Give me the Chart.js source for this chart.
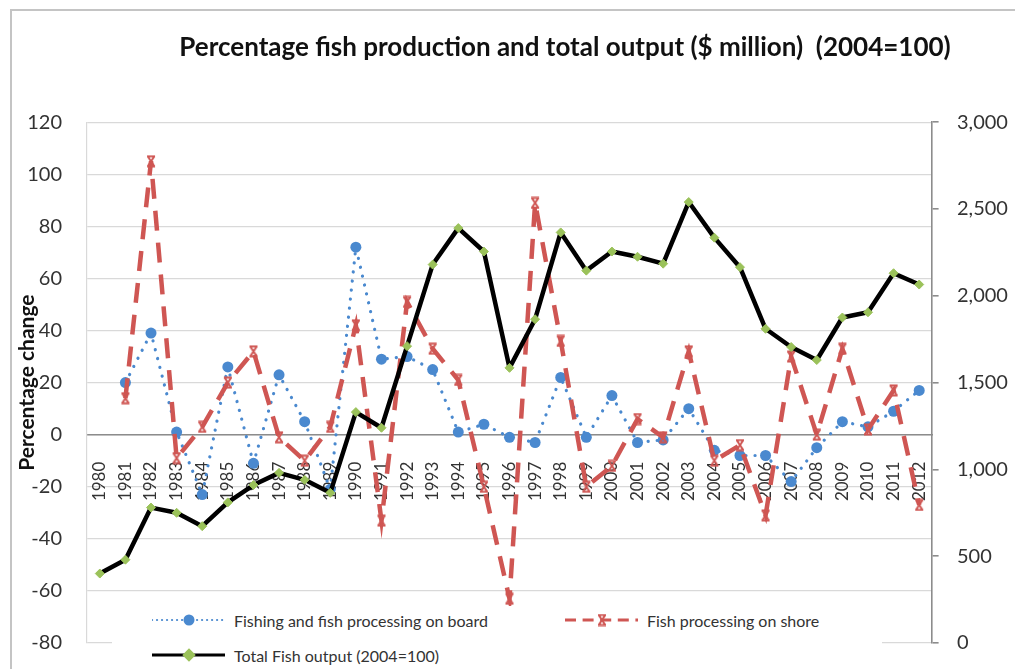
<!DOCTYPE html>
<html lang="en">
<head>
<meta charset="utf-8" />
<title>Percentage fish production and total output</title>
<script src="https://cdn.jsdelivr.net/npm/chart.js@4.4.1/dist/chart.umd.min.js"></script>
<style>
    body { margin: 0; background: #fff; font-family: Lato, sans-serif; }
    #wrap { position: relative; width: 1015px; height: 669px; overflow: hidden; }
    #frame { position: absolute; left: 10px; top: 9px; width: 1100px; height: 700px; border: 2px solid #c4c4c4; }
    #chart { position: absolute; left: 0; top: 0; }
    #legend { position: absolute; left: 112px; top: 606px; width: 770px; height: 63px; background: #fff; }
    .item { position: absolute; height: 18px; display: flex; align-items: center; font-size: 16px; color: #333; white-space: nowrap; }
    .item canvas { margin-right: 9px; }
</style>
</head>
<body>
<div id="wrap">
    <div id="frame"></div>
    <canvas id="chart" width="1015" height="669"></canvas>
    <div id="legend"></div>
</div>
<script>
    // data
    const years = ['1980', '1981', '1982', '1983', '1984', '1985', '1986', '1987', '1988', '1989',
        '1990', '1991', '1992', '1993', '1994', '1995', '1996', '1997', '1998', '1999',
        '2000', '2001', '2002', '2003', '2004', '2005', '2006', '2007', '2008', '2009',
        '2010', '2011', '2012'];

    const onBoard = [null, 20, 39, 1, -23, 26, -11, 23, 5, -21,
        72, 29, 30, 25, 1, 4, -1, -3, 22, -1,
        15, -3, -2, 10, -6, -8, -8, -18, -5, 5,
        3, 9, 17];

    const onShore = [null, 14, 105, -9, 3, 20, 32, -1, -10, 3,
        42, -33, 51, 33, 21, -20, -63, 89, 36, -20,
        -12, 6, -1, 32, -10, -4, -31, 30, 0, 33,
        2, 17, -27];

    const totalOutput = [400, 480, 780, 750, 673, 810, 910, 980, 940, 865,
        1330, 1240, 1710, 2180, 2390, 2255, 1585, 1865, 2365, 2145,
        2255, 2225, 2185, 2540, 2335, 2165, 1810, 1705, 1630, 1875,
        1905, 2130, 2065];

    const seriesNames = ['Fishing and fish processing on board', 'Fish processing on shore', 'Total Fish output (2004=100)'];
    const leftTicks = { min: -80, max: 120, step: 20 };
    const rightTicks = { min: 0, max: 3000, step: 500 };

    const BLUE = '#4a89cf';
    const RED = '#cf5653';
    const GREEN = '#9bc25a';
    const TEXT = '#333';
    const FONT = 'Lato';
    const TITLE_CENTER = 565;

    // excel style "x" marker
    const xMarker = (color) => {
        const c = document.createElement('canvas');
        c.width = 12;
        c.height = 13;
        const g = c.getContext('2d');
        g.strokeStyle = color;
        g.lineWidth = 2;
        g.beginPath();
        g.moveTo(2, 1.5); g.lineTo(10, 1.5);
        g.moveTo(2, 11.5); g.lineTo(10, 11.5);
        g.moveTo(3, 2); g.lineTo(9, 11);
        g.moveTo(9, 2); g.lineTo(3, 11);
        g.stroke();
        return c;
    };
    const redX = xMarker(RED);

    const titleShift = {
        id: 'titleShift',
        afterLayout(chart) {
            const tb = chart.titleBlock;
            if (!tb) return;
            const d = TITLE_CENTER - (tb.left + tb.right) / 2;
            tb.left += d;
            tb.right += d;
        }
    };

    const ctx = document.getElementById('chart').getContext('2d');
    const chart = new Chart(ctx, {
        type: 'line',
        data: {
            labels: years,
            datasets: [{
                label: seriesNames[0],
                data: onBoard,
                yAxisID: 'y',
                borderColor: BLUE,
                backgroundColor: BLUE,
                borderWidth: 3.2,
                borderDash: [0.1, 9],
                borderCapStyle: 'round',
                pointStyle: 'circle',
                pointRadius: 5.5,
                pointBackgroundColor: BLUE,
                pointBorderColor: BLUE,
                pointBorderWidth: 0,
                order: 3
            }, {
                label: seriesNames[1],
                data: onShore,
                yAxisID: 'y',
                borderColor: RED,
                backgroundColor: RED,
                borderWidth: 4.5,
                borderDash: [20, 12],
                pointStyle: redX,
                pointRadius: 6,
                order: 2
            }, {
                label: seriesNames[2],
                data: totalOutput,
                yAxisID: 'y1',
                borderColor: '#000',
                backgroundColor: '#000',
                borderWidth: 4.5,
                borderJoinStyle: 'round',
                pointStyle: 'rectRot',
                pointRadius: 4.5,
                pointBackgroundColor: GREEN,
                pointBorderColor: GREEN,
                pointBorderWidth: 1,
                order: 1
            }]
        },
        options: {
            responsive: false,
            animation: false,
            devicePixelRatio: 1,
            locale: 'en-US',
            events: [],
            layout: { padding: { left: 15, right: 0, top: 0, bottom: 26 } },
            elements: { line: { tension: 0 } },
            plugins: {
                legend: { display: false },
                tooltip: { enabled: false },
                title: {
                    display: true,
                    text: 'Percentage fish production and total output ($ million)  (2004=100)',
                    color: '#111',
                    font: { family: FONT, size: 26, weight: 'bold' },
                    padding: { top: 32, bottom: 59 }
                }
            },
            scales: {
                x: {
                    type: 'category',
                    position: { y: 0 },
                    offset: true,
                    grid: { display: false, drawTicks: false },
                    border: { display: true, color: '#8c8c8c', width: 1.6 },
                    ticks: {
                        autoSkip: false,
                        minRotation: 90,
                        maxRotation: 90,
                        padding: 27,
                        color: TEXT,
                        font: { family: FONT, size: 17 }
                    }
                },
                y: {
                    position: 'left',
                    min: leftTicks.min,
                    max: leftTicks.max,
                    afterFit: (s) => { s.width = 72; },
                    grid: { color: '#d9d9d9', lineWidth: 1.2, tickLength: 25, tickColor: 'rgba(0,0,0,0)' },
                    border: { display: true, color: '#d9d9d9', width: 1.2 },
                    ticks: {
                        stepSize: leftTicks.step,
                        padding: 0,
                        color: TEXT,
                        font: { family: FONT, size: 20 }
                    },
                    title: {
                        display: true,
                        text: 'Percentage change',
                        color: '#111',
                        padding: 0,
                        font: { family: FONT, size: 21, weight: 'bold' }
                    }
                },
                y1: {
                    position: 'right',
                    min: rightTicks.min,
                    max: rightTicks.max,
                    afterFit: (s) => { s.width = 83; },
                    grid: {
                        drawOnChartArea: false,
                        color: '#8c8c8c',
                        lineWidth: 1.6,
                        tickLength: 25,
                        tickBorderDash: [6, 60]
                    },
                    border: { display: true, color: '#8c8c8c', width: 1.6 },
                    ticks: {
                        stepSize: rightTicks.step,
                        padding: 0,
                        color: TEXT,
                        font: { family: FONT, size: 20 }
                    }
                }
            }
        },
        plugins: [titleShift]
    });

    // html legend built from the datasets, laid out like the excel one
    const legendSlots = [{ left: 40, top: 5 }, { left: 453, top: 5 }, { left: 40, top: 40 }];
    const legendEl = document.getElementById('legend');
    chart.data.datasets.forEach((ds, i) => {
        const item = document.createElement('div');
        item.className = 'item';
        item.style.left = legendSlots[i].left + 'px';
        item.style.top = legendSlots[i].top + 'px';
        const sw = document.createElement('canvas');
        sw.width = 73;
        sw.height = 16;
        const g = sw.getContext('2d');
        g.strokeStyle = ds.borderColor;
        g.lineWidth = ds.borderWidth * 0.7;
        g.lineCap = ds.borderCapStyle || 'butt';
        g.setLineDash((ds.borderDash || []).map(v => v * 0.55));
        g.beginPath();
        g.moveTo(0, 8);
        g.lineTo(73, 8);
        g.stroke();
        g.setLineDash([]);
        g.fillStyle = ds.pointBackgroundColor || ds.borderColor;
        g.strokeStyle = ds.pointBorderColor || ds.borderColor;
        if (Chart.helpers && Chart.helpers.drawPoint) {
            Chart.helpers.drawPoint(g, {
                pointStyle: ds.pointStyle,
                radius: ds.pointRadius,
                borderWidth: ds.pointBorderWidth || 0,
                rotation: 0
            }, 37, 8);
        }
        const label = document.createElement('span');
        label.textContent = ds.label;
        item.appendChild(sw);
        item.appendChild(label);
        legendEl.appendChild(item);
    });
</script>
</body>
</html>
